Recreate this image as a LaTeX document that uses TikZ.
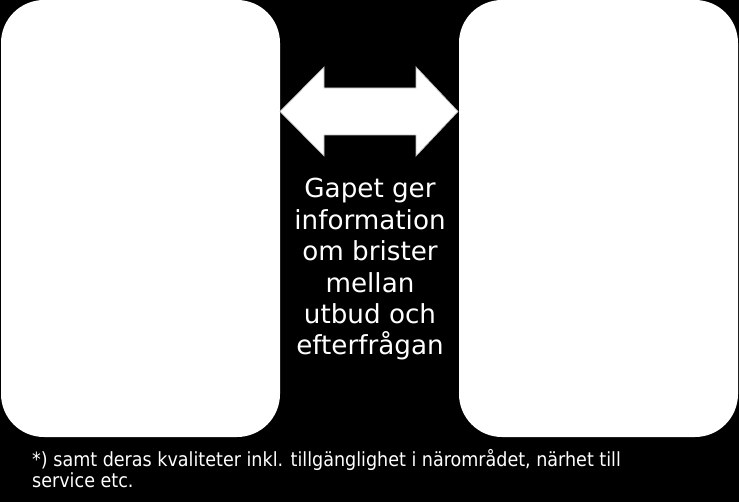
\documentclass[tikz,border=0pt]{standalone}
\usepackage{fontspec}
\setmainfont{DejaVu Sans}
\newfontfamily\notefont{DejaVu Sans Condensed}
\begin{document}
\begin{tikzpicture}[x=1pt,y=-1pt,
  panel/.style={fill=white,draw=none,rounded corners=43pt},
  gaparrow/.style={fill=white,draw=gray!55,line width=0.7pt,line join=miter},
  gaptext/.style={text=white,align=center,inner sep=0pt,font=\fontsize{26.2}{31.4}\selectfont},
  notetext/.style={text=white,align=left,inner sep=0pt,font=\notefont\fontsize{19.5}{20.5}\selectfont}]
\fill[black] (0,0) rectangle (739,502);
\useasboundingbox (0,0) rectangle (739,502);
\path[panel] (1,0) rectangle (280,437);
\path[panel] (459,0) rectangle (738,437);
\draw[gaparrow] (280,111.5) -- (324,67) -- (324,88) -- (416,88) -- (416,67) -- (458,111.5)
  -- (416,156) -- (416,135) -- (324,135) -- (324,156) -- cycle;
\node[gaptext,anchor=base] (gap) at (370,355) {Gapet ger\\information\\om brister\\mellan\\utbud och\\efterfrågan};
\node[notetext,anchor=base west] (note) at (32,487) {*) samt deras kvaliteter inkl. tillgänglighet i närområdet, närhet till\\service etc.};
\end{tikzpicture}
\end{document}
